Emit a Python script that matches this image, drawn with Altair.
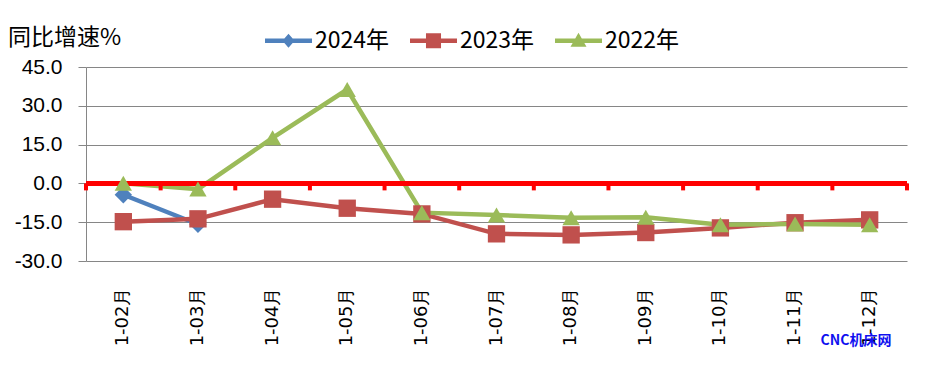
import altair as alt
import pandas as pd

months = ["1-02月", "1-03月", "1-04月", "1-05月", "1-06月", "1-07月",
          "1-08月", "1-09月", "1-10月", "1-11月", "1-12月"]
series_names = ["2024年", "2023年", "2022年"]
v2024 = [-4.4, -15.8]
v2023 = [-14.8, -13.7, -6.1, -9.6, -11.8, -19.5, -19.9, -19.0, -17.2, -15.2, -14.1]
v2022 = [0.1, -2.2, 17.6, 36.3, -11.3, -12.2, -13.3, -13.1, -16.0, -15.7, -16.0]
y_ticks = [-30, -15, 0, 15, 30, 45]
title_text = "同比增速%"
watermark_text = "CNC机床网"

colors = ["#4F81BD", "#C0504D", "#9BBB59"]
shapes = ["diamond", "square", "triangle-up"]
bar = "M-1,-0.1L1,-0.1L1,0.1L-1,0.1Z "
legend_shapes = [
    bar + "M0,-0.3L0.26,0L0,0.3L-0.26,0Z",
    bar + "M-0.32,-0.32L0.32,-0.32L0.32,0.32L-0.32,0.32Z",
    bar + "M0,-0.34L0.34,0.26L-0.34,0.26Z",
]

rows = []
for name, vals in zip(series_names, [v2024, v2023, v2022]):
    for m, v in zip(months, vals):
        rows.append({"month": m, "series": name, "value": v})
df = pd.DataFrame(rows)
df_months = pd.DataFrame({"month": months})
df_last = pd.DataFrame({"month": months[-1:]})
df_series = pd.DataFrame({"series": series_names})
df_title = pd.DataFrame({"label": [title_text]})
df_wm = pd.DataFrame({"label": [watermark_text]})

GRAY = "#868686"
X_FONT = "DejaVu Sans"
Y_FONT = "Liberation Sans"
X_SIZE = 18
Y_SIZE = 21
xscale = alt.Scale(type="band", domain=months, paddingInner=0, paddingOuter=0)
yscale = alt.Scale(domain=[-30, 45], nice=False, zero=False)

x_axis = alt.Axis(labelAngle=-90, labelFont=X_FONT, labelFontSize=X_SIZE,
                  labelColor="black", domain=False, ticks=False,
                  labelPadding=26, grid=False, labelOverlap=False, title=None)
y_axis = alt.Axis(values=y_ticks, format=".1f",
                  labelExpr="datum.value < 0 ? '-' + format(-datum.value, '.1f') : format(datum.value, '.1f')",
                  labelFont=Y_FONT,
                  labelFontSize=Y_SIZE, labelColor="black", grid=True,
                  gridColor=GRAY, gridWidth=1, domainColor=GRAY,
                  tickColor=GRAY, tickSize=8, labelPadding=16,
                  labelOverlap=False, title=None)

x_enc = alt.X("month:N", sort=months, scale=xscale, title=None, axis=x_axis)
y_enc = alt.Y("value:Q", scale=yscale, title=None, axis=y_axis)
color_enc = alt.Color("series:N", sort=series_names,
                      scale=alt.Scale(domain=series_names, range=colors), legend=None)

zero_line = alt.Chart(df_months).mark_rule(color="#FF0000", strokeWidth=4).encode(
    y=alt.YDatum(0, scale=yscale, axis=y_axis, title=None)
)
zero_ticks = alt.Chart(df_months).mark_rule(color="#FF0000", strokeWidth=4).encode(
    x=alt.X("month:N", sort=months, scale=xscale, bandPosition=0, axis=x_axis, title=None),
    y=alt.YDatum(0, scale=yscale, axis=y_axis, title=None), y2=alt.Y2Datum(-2.7)
)
zero_tick_end = alt.Chart(df_last).mark_rule(color="#FF0000", strokeWidth=4).encode(
    x=alt.X("month:N", sort=months, scale=xscale, bandPosition=1, axis=x_axis, title=None),
    y=alt.YDatum(0, scale=yscale, axis=y_axis, title=None), y2=alt.Y2Datum(-2.7)
)

lines = alt.Chart(df).mark_line(strokeWidth=4.5).encode(
    x=x_enc, y=y_enc, color=color_enc, detail="series:N"
)
points = alt.Chart(df).mark_point(filled=True, size=300, opacity=1).encode(
    x=x_enc,
    y=y_enc,
    color=color_enc,
    shape=alt.Shape("series:N", sort=series_names,
                    scale=alt.Scale(domain=series_names, range=shapes), legend=None),
)
leg = alt.Legend(title=None, orient="none", direction="horizontal",
                 legendX=179, legendY=-50, padding=0,
                 labelFont="Noto Sans CJK SC", labelFontSize=23,
                 labelColor="black", symbolSize=2209,
                 symbolStrokeWidth=0, symbolOpacity=1,
                 labelOffset=3, columnPadding=20)
legend_layer = alt.Chart(df_series).mark_point(filled=True, opacity=0).encode(
    color=alt.Color("series:N", sort=series_names,
                    scale=alt.Scale(domain=series_names, range=colors), legend=leg),
    shape=alt.Shape("series:N", sort=series_names,
                    scale=alt.Scale(domain=series_names, range=legend_shapes), legend=leg),
)

title = alt.Chart(df_title).mark_text(align="left", baseline="middle",
                                      font="Noto Sans CJK SC", fontSize=23,
                                      color="black").encode(
    x=alt.value(-78), y=alt.value(-29), text="label:N"
)
wm = alt.Chart(df_wm).mark_text(align="center", baseline="middle",
                                font="Noto Sans CJK SC", fontSize=14,
                                fontWeight="bold", color="#1010F0").encode(
    x=alt.value(770), y=alt.value(274), text="label:N"
)

chart = alt.layer(
    lines, zero_line, zero_ticks, zero_tick_end, points, legend_layer, title, wm
).resolve_scale(
    color="independent", shape="independent"
).properties(
    width=821, height=194,
    padding={"left": 78, "top": 59, "right": 10, "bottom": 101},
    autosize=alt.AutoSizeParams(type="none"),
).configure_view(
    stroke=None
).configure_axisX(
    labelFont=X_FONT, labelFontSize=X_SIZE, labelAngle=-90, labelPadding=26
).configure_axisY(
    labelFont=Y_FONT, labelFontSize=Y_SIZE, labelPadding=16
)

chart.save("out.html", embed_options={"renderer": "svg", "actions": False})
